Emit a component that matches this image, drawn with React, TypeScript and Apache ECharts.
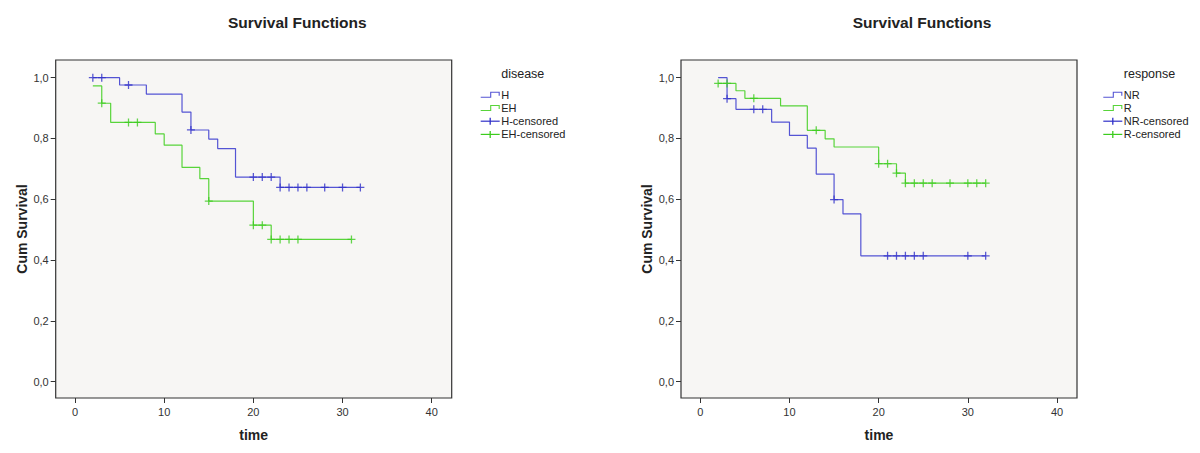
import React, { useEffect, useRef } from "react";
import * as echarts from "echarts";

// ---- Data ----
// Left chart: grouping "disease"
const H_EVENT_TIMES = [2, 5, 8, 12, 13, 15, 16, 18, 23];
const H_SURVIVAL = [1.0, 0.976, 0.946, 0.887, 0.828, 0.798, 0.767, 0.673, 0.639];
const H_CENSORED = [2, 3, 6, 13, 20, 21, 22, 23, 24, 25, 26, 28, 30, 32];

const EH_EVENT_TIMES = [2, 3, 4, 9, 10, 12, 14, 15, 20, 22];
const EH_SURVIVAL = [0.973, 0.916, 0.853, 0.815, 0.778, 0.705, 0.668, 0.594, 0.515, 0.468];
const EH_CENSORED = [3, 6, 7, 15, 20, 21, 22, 23, 24, 25, 31];

// Right chart: grouping "response"
const NR_EVENT_TIMES = [2, 3, 4, 8, 10, 12, 13, 15, 16, 18];
const NR_SURVIVAL = [1.0, 0.931, 0.896, 0.854, 0.81, 0.768, 0.683, 0.599, 0.552, 0.414];
const NR_CENSORED = [3, 6, 7, 15, 21, 22, 23, 24, 25, 30, 32];

const R_EVENT_TIMES = [2, 4, 5, 9, 12, 14, 15, 20, 22, 23];
const R_SURVIVAL = [0.981, 0.957, 0.932, 0.907, 0.827, 0.799, 0.772, 0.717, 0.686, 0.653];
const R_CENSORED = [2, 3, 6, 13, 20, 21, 22, 23, 24, 25, 26, 28, 30, 31, 32];

const X_TICKS = [0, 10, 20, 30, 40];
const Y_TICKS = [0, 0.2, 0.4, 0.6, 0.8, 1.0];

const TITLE = "Survival Functions";
const X_NAME = "time";
const Y_NAME = "Cum Survival";
const LEFT_LEGEND_TITLE = "disease";
const LEFT_LEGEND = ["H", "EH", "H-censored", "EH-censored"];
const RIGHT_LEGEND_TITLE = "response";
const RIGHT_LEGEND = ["NR", "R", "NR-censored", "R-censored"];

// ---- Styling ----
const BLUE = "#5454d4";
const BLUE_MARK = "#3030c8";
const GREEN = "#58d43a";
const GREEN_MARK = "#3ccc1e";
const FONT = "'Liberation Sans', Arial, sans-serif";
const PLUS = "path://M0,4.2H10V5.8H0Z M4.2,0H5.8V10H4.2Z";

function stepData(times: number[], surv: number[], censored: number[]) {
  const pts: number[][] = times.map((t, i) => [t, surv[i]]);
  const end = Math.max(...censored, times[times.length - 1]);
  pts.push([end, surv[surv.length - 1]]);
  return pts;
}

function levelAt(times: number[], surv: number[], t: number) {
  let s = surv[0];
  for (let i = 0; i < times.length; i++) {
    if (times[i] <= t) s = surv[i];
  }
  return s;
}

function censorData(times: number[], surv: number[], censored: number[]) {
  return censored.map((t) => [t, levelAt(times, surv, t)]);
}

const GRID_TOP = 60;
const GRID_H = 338;
const GRID_W = 396;
const LEFT_GRID_X = 55.7;
const RIGHT_GRID_X = 681;

function makeXAxis(gridIndex: number) {
  return {
    type: "value",
    gridIndex,
    position: "bottom",
    min: -2.164,
    max: 42.24,
    name: X_NAME,
    nameLocation: "middle",
    nameGap: 30,
    nameTextStyle: { fontFamily: FONT, fontWeight: "bold", fontSize: 14, color: "#222" },
    axisLine: { show: false, onZero: false },
    axisTick: { show: true, customValues: X_TICKS, length: 5, lineStyle: { color: "#333", width: 1 } },
    axisLabel: {
      customValues: X_TICKS,
      margin: 8,
      fontFamily: FONT,
      fontSize: 11,
      color: "#333",
    },
    splitLine: { show: false },
  };
}

function makeYAxis(gridIndex: number) {
  return {
    type: "value",
    gridIndex,
    position: "left",
    min: -0.0536,
    max: 1.0582,
    name: Y_NAME,
    nameLocation: "middle",
    nameRotate: 90,
    nameGap: 27,
    nameTextStyle: { fontFamily: FONT, fontWeight: "bold", fontSize: 14, color: "#222" },
    axisLine: { show: false, onZero: false },
    axisTick: { show: true, customValues: Y_TICKS, length: 5, lineStyle: { color: "#333", width: 1 } },
    axisLabel: {
      customValues: Y_TICKS,
      margin: 7,
      fontFamily: FONT,
      fontSize: 11,
      color: "#333",
      formatter: (v: number) => v.toFixed(1).replace(".", ","),
    },
    splitLine: { show: false },
  };
}

function lineSeries(idx: number, name: string, times: number[], surv: number[], cens: number[], color: string) {
  return {
    type: "line",
    name,
    xAxisIndex: idx,
    yAxisIndex: idx,
    step: "end",
    symbol: "none",
    data: stepData(times, surv, cens),
    lineStyle: { color, width: 1.2 },
    z: 2,
  };
}

function censorSeries(idx: number, name: string, times: number[], surv: number[], cens: number[], color: string) {
  return {
    type: "scatter",
    name,
    xAxisIndex: idx,
    yAxisIndex: idx,
    symbol: PLUS,
    symbolSize: 8,
    data: censorData(times, surv, cens),
    itemStyle: { color },
    z: 3,
  };
}

function legendGraphics(x0: number, title: string, labels: string[], colors: string[]) {
  const els: any[] = [];
  els.push({
    type: "text",
    x: x0 + 20.5,
    y: 74.3,
    style: { text: title, font: `12.5px ${FONT}`, fill: "#222", textVerticalAlign: "middle", textAlign: "left" },
  });
  const rows = [94.8, 108, 121.2, 134.4];
  labels.forEach((lab, i) => {
    const y = rows[i];
    const c = colors[i];
    if (i < 2) {
      els.push({
        type: "polyline",
        shape: {
          points: [
            [x0, y + 2.5],
            [x0 + 10, y + 2.5],
            [x0 + 10, y - 2.5],
            [x0 + 18.5, y - 2.5],
            [x0 + 18.5, y + 1],
          ],
        },
        style: { stroke: c, lineWidth: 1.1, fill: null },
      });
    } else {
      els.push({
        type: "line",
        shape: { x1: x0, y1: y, x2: x0 + 19, y2: y },
        style: { stroke: c, lineWidth: 1.2 },
      });
      els.push({
        type: "line",
        shape: { x1: x0 + 9.5, y1: y - 3.5, x2: x0 + 9.5, y2: y + 3.5 },
        style: { stroke: c, lineWidth: 1.3 },
      });
    }
    els.push({
      type: "text",
      x: x0 + 20.5,
      y,
      style: { text: lab, font: `11px ${FONT}`, fill: "#222", textVerticalAlign: "middle", textAlign: "left" },
    });
  });
  return els;
}

export default function App() {
  const ref = useRef<HTMLDivElement | null>(null);

  useEffect(() => {
    if (!ref.current) return;
    const chart = echarts.init(ref.current, null, { renderer: "svg" });
    const gridCommon = {
      show: true,
      top: GRID_TOP,
      height: GRID_H,
      width: GRID_W,
      backgroundColor: "#f7f6f4",
      borderColor: "#333",
      borderWidth: 1.2,
    };
    const titleStyle = { fontFamily: FONT, fontWeight: "bold", fontSize: 15.5, color: "#222" };
    const option: any = {
      animation: false,
      backgroundColor: "#ffffff",
      title: [
        { text: TITLE, left: 223, top: 9, textStyle: titleStyle },
        { text: TITLE, left: 847.7, top: 9, textStyle: titleStyle },
      ],
      grid: [
        { ...gridCommon, left: LEFT_GRID_X },
        { ...gridCommon, left: RIGHT_GRID_X },
      ],
      xAxis: [makeXAxis(0), makeXAxis(1)],
      yAxis: [makeYAxis(0), makeYAxis(1)],
      series: [
        lineSeries(0, "H", H_EVENT_TIMES, H_SURVIVAL, H_CENSORED, BLUE),
        lineSeries(0, "EH", EH_EVENT_TIMES, EH_SURVIVAL, EH_CENSORED, GREEN),
        censorSeries(0, "H-censored", H_EVENT_TIMES, H_SURVIVAL, H_CENSORED, BLUE_MARK),
        censorSeries(0, "EH-censored", EH_EVENT_TIMES, EH_SURVIVAL, EH_CENSORED, GREEN_MARK),
        lineSeries(1, "NR", NR_EVENT_TIMES, NR_SURVIVAL, NR_CENSORED, BLUE),
        lineSeries(1, "R", R_EVENT_TIMES, R_SURVIVAL, R_CENSORED, GREEN),
        censorSeries(1, "NR-censored", NR_EVENT_TIMES, NR_SURVIVAL, NR_CENSORED, BLUE_MARK),
        censorSeries(1, "R-censored", R_EVENT_TIMES, R_SURVIVAL, R_CENSORED, GREEN_MARK),
      ],
      graphic: [
        ...legendGraphics(480.7, LEFT_LEGEND_TITLE, LEFT_LEGEND, [BLUE, GREEN, BLUE_MARK, GREEN_MARK]),
        ...legendGraphics(1103.3, RIGHT_LEGEND_TITLE, RIGHT_LEGEND, [BLUE, GREEN, BLUE_MARK, GREEN_MARK]),
      ],
    };
    chart.setOption(option);
    return () => {
      chart.dispose();
    };
  }, []);

  return (
    <div
      ref={ref}
      style={{ position: "fixed", left: 0, top: 0, width: 1200, height: 453, background: "#fff" }}
    />
  );
}
